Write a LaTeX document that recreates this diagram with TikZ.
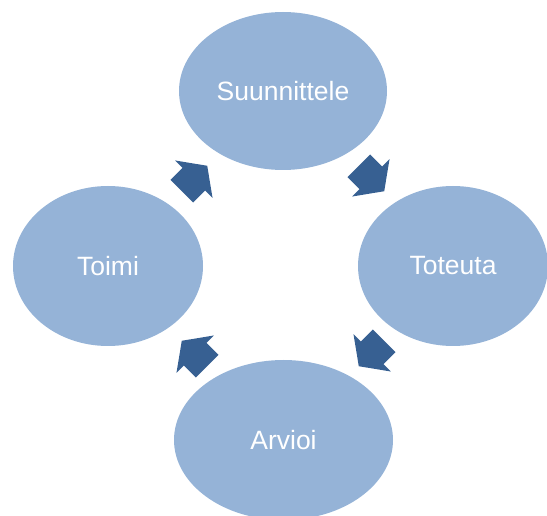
\documentclass[tikz,border=0pt]{standalone}
\usepackage{fontspec}
\setmainfont{Liberation Sans}
\usetikzlibrary{shapes.geometric}
\definecolor{ellfill}{HTML}{95B3D7}
\definecolor{arrfill}{HTML}{376092}
\tikzset{
  stage/.style={ellipse, fill=ellfill, draw=none, inner sep=0pt, text=white,
    font=\fontsize{26.5}{31}\selectfont},
  cyclearrow/.style={fill=arrfill, draw=none}
}
\begin{document}
\begin{tikzpicture}[x=1pt,y=1pt]
\useasboundingbox (0,0) rectangle (547,515);
\clip (0,0) rectangle (547,515);
\node[stage, minimum width=208pt, minimum height=158pt] (plan) at (283,424) {Suunnittele};
\node[stage, minimum width=190pt, minimum height=160pt] (do) at (453,249) {Toteuta};
\node[stage, minimum width=219pt, minimum height=160pt] (check) at (283.5,75) {Arvioi};
\node[stage, minimum width=190pt, minimum height=160pt] (act) at (108,249) {Toimi};
% cycle arrows
\foreach \px/\py/\ang in {371.5/336.5/-45, 371.5/161.5/-135, 194.5/161.5/135, 194.5/336.5/45}{
  \fill[cyclearrow, shift={(\px,\py)}, rotate=\ang]
    (-18,16) -- (-1,16) -- (-1,26.5) -- (18,0) -- (-1,-26.5) -- (-1,-16) -- (-18,-16) -- cycle;
}
\end{tikzpicture}
\end{document}
